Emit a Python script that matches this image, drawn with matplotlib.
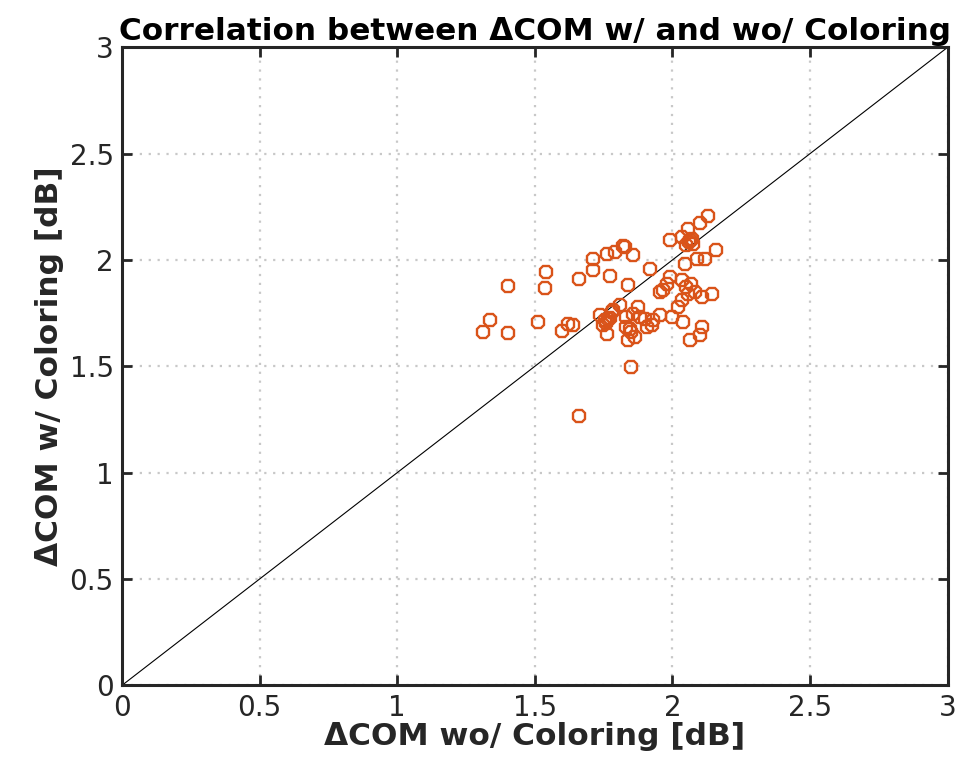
#! /usr/bin/env python
"""Correlation scatter of delta COM with and without coloring."""

import numpy as np
import matplotlib
matplotlib.use('Agg')
import matplotlib.pyplot as plt

plt.rcParams['font.family'] = ['DejaVu Sans']

### data ##########################################################################################

com_wo = [1.310, 1.337, 1.403, 1.403, 1.510, 1.537, 1.540, 1.597, 1.621, 1.639,
          1.661, 1.661, 1.712, 1.712, 1.761, 1.791, 1.821, 1.857, 1.773, 1.839,
          1.736, 1.754, 1.773, 1.747, 1.780, 1.785, 1.809, 1.761, 1.833, 1.845,
          1.839, 1.851, 1.875, 1.857, 1.882, 1.900, 1.863, 1.906, 1.924, 1.930,
          1.955, 1.955, 1.918, 1.827, 1.991, 2.033, 2.057, 2.063, 2.075, 2.100,
          2.130, 2.160, 2.118, 2.088, 2.045, 1.991, 1.979, 1.966, 2.033, 2.051,
          2.069, 2.057, 2.081, 2.106, 2.142, 2.033, 2.021, 1.997, 2.039, 2.106,
          2.100, 2.063, 1.833, 1.851, 2.060, 2.070, 2.050, 1.765, 1.758]
com_w = [1.661, 1.719, 1.876, 1.656, 1.708, 1.870, 1.943, 1.664, 1.701, 1.693,
         1.912, 1.265, 2.006, 1.954, 2.030, 2.037, 2.064, 2.022, 1.923, 1.881,
         1.739, 1.716, 1.725, 1.692, 1.753, 1.763, 1.787, 1.653, 1.732, 1.677,
         1.622, 1.496, 1.779, 1.748, 1.732, 1.724, 1.638, 1.685, 1.693, 1.716,
         1.740, 1.849, 1.959, 2.061, 2.095, 2.108, 2.147, 2.092, 2.077, 2.174,
         2.205, 2.045, 2.006, 2.006, 1.983, 1.920, 1.889, 1.857, 1.904, 1.873,
         1.889, 1.842, 1.849, 1.826, 1.842, 1.810, 1.779, 1.732, 1.708, 1.685,
         1.646, 1.622, 1.685, 1.661, 2.085, 2.100, 2.070, 1.720, 1.705]

ticks = [0, 0.5, 1, 1.5, 2, 2.5, 3]
tick_labels = ['0', '0.5', '1', '1.5', '2', '2.5', '3']

### plot ##########################################################################################

fig = plt.figure(figsize=(9.62, 7.76), dpi=100)
ax = fig.add_axes([0.127, 0.117, 0.858, 0.822])

ax.plot([0, 3], [0, 3], color='k', lw=0.8, zorder=2)
ax.plot(com_wo, com_w, ls='none', marker='8', ms=10, mfc='none',
        mec='#D95319', mew=1.7, zorder=3)

ax.set_xlim(0, 3)
ax.set_ylim(0, 3)
ax.set_xticks(ticks)
ax.set_yticks(ticks)
ax.set_xticklabels(tick_labels)
ax.set_yticklabels(tick_labels)
ax.grid(True, ls=(0, (1, 3)), color='#c8c8c8', lw=1.6)
ax.set_axisbelow(True)

ax.tick_params(direction='in', length=7, width=2, top=True, right=True,
               labelsize=20, pad=6, colors='#262626')
for s in ax.spines.values():
    s.set_linewidth(2.2)
    s.set_color('#262626')

ax.set_xlabel('\u0394COM wo/ Coloring [dB]', fontsize=22.5, fontweight='bold',
              color='#262626', labelpad=0)
ax.set_ylabel('\u0394COM w/ Coloring [dB]', fontsize=22.5, fontweight='bold',
              color='#262626', labelpad=4)
ax.set_title('Correlation between \u0394COM w/ and wo/ Coloring', fontsize=22.4,
             fontweight='bold', pad=5)

fig.savefig('out.png', dpi=100)
plt.close(fig)
